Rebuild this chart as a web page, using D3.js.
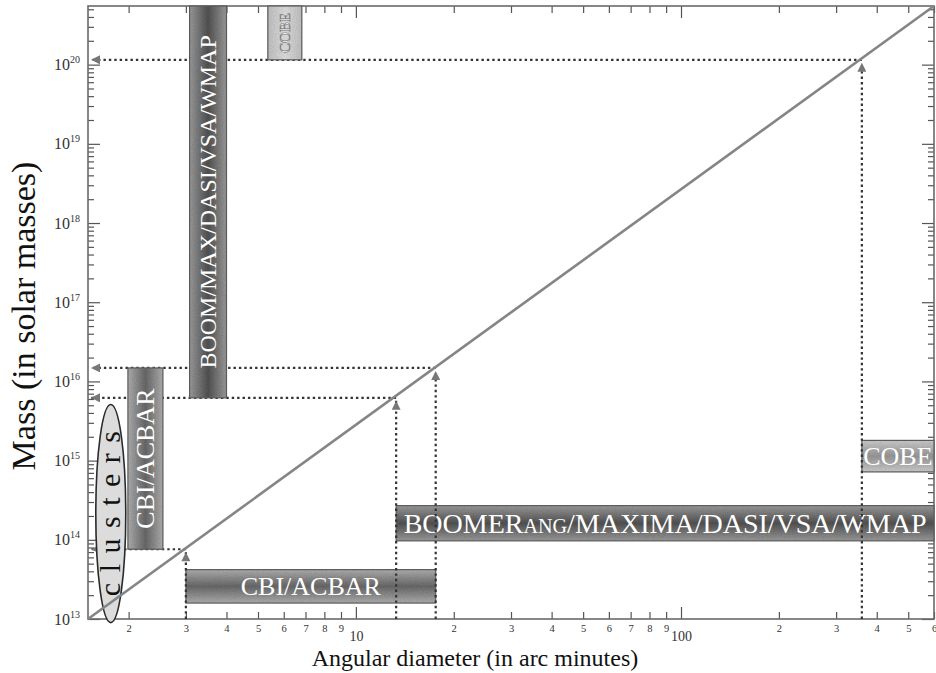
<!DOCTYPE html>
<html>
<head>
<meta charset="utf-8">
<script src="https://cdn.jsdelivr.net/npm/d3@7"></script>
<style>
  body { margin: 0; background: #fff; }
  svg { display: block; }
  text { font-family: "Liberation Serif", "Times New Roman", Tinos, "DejaVu Serif", "Noto Serif", serif; }
</style>
</head>
<body>
<svg id="chart" width="936" height="673"></svg>
<script>
// ---------------- DATA ----------------
const xDomain = [1.5, 600];          // angular diameter (arc minutes)
const yDomain = [1e13, 5.5e20];      // mass (solar masses)

// M ∝ θ^3 relation (end points)
const relationTheta = [1.5, 600];
const relationMass  = [1e13, 5.5e20];

// Dotted guide points on the relation
const guideTheta = [3.0, 13.3, 17.6, 360];
const guideMass  = [7.6e13, 6.2e15, 1.48e16, 1.15e20];

// Experiment bands
const instruments = ["BOOM/MAX/DASI/VSA/WMAP", "COBE", "CBI/ACBAR", "CBI/ACBAR",
                     "BOOMERANG/MAXIMA/DASI/VSA/WMAP", "COBE"];
const thetaMin = [3.08, 5.36, 1.99, 3.0, 13.3, 360];
const thetaMax = [4.0, 6.82, 2.55, 17.6, 600, 600];
const massMin  = [6.2e15, 1.15e20, 7.6e13, 1.59e13, 9.7e13, 7.2e14];
const massMax  = [5.5e20, 5.5e20, 1.48e16, 4.2e13, 2.7e14, 1.8e15];

// Clusters region
const clusterLabel = "clusters";
const clusterTheta = [1.585, 1.96];
const clusterMass  = [9.0e12, 5.1e15];

// Tick labels
const yTickExponents = [13, 14, 15, 16, 17, 18, 19, 20];
const xMajorTicks = [10, 100];
const xMinorDigits = [2, 3, 4, 5, 6, 7, 8, 9];

const xTitle = "Angular diameter (in arc minutes)";
const yTitle = "Mass (in solar masses)";

// ---------------- STYLE ----------------
const serif = "Liberation Serif, Times New Roman, Tinos, DejaVu Serif, Noto Serif, serif";
const barVertical = [true, true, true, false, false, false];
const barTone     = ["dark", "pale", "mid", "mid", "dark", "light"];
const barFont     = [24, 15, 26, 26, 28, 26];
const tones = {
  dark:  ["#a0a0a0", "#555555", "#a0a0a0"],
  mid:   ["#b4b4b4", "#6c6c6c", "#b4b4b4"],
  light: ["#d2d2d2", "#9c9c9c", "#d2d2d2"],
  pale:  ["#c6c6c6", "#e4e4e4", "#c6c6c6"]
};

// ---------------- SETUP ----------------
const svg = d3.select("#chart");
const PL = 88, PR = 934, PT = 6, PB = 619;
const x = d3.scaleLog().domain(xDomain).range([PL, PR]);
const y = d3.scaleLog().domain(yDomain).range([PB, PT]);

const defs = svg.append("defs");
Object.entries(tones).forEach(([name, stops]) => {
  ["v", "h"].forEach(o => {
    const g = defs.append("linearGradient").attr("id", `g-${name}-${o}`)
      .attr("x1", 0).attr("y1", 0)
      .attr("x2", o === "v" ? 1 : 0).attr("y2", o === "v" ? 0 : 1);
    stops.forEach((c, i) => g.append("stop").attr("offset", i / (stops.length - 1)).attr("stop-color", c));
  });
});
// noise texture
const flt = defs.append("filter").attr("id", "grain").attr("x", 0).attr("y", 0).attr("width", 1).attr("height", 1);
flt.append("feTurbulence").attr("type", "fractalNoise").attr("baseFrequency", 0.9).attr("numOctaves", 2).attr("seed", 3).attr("result", "noise");
flt.append("feColorMatrix").attr("in", "noise").attr("type", "matrix")
  .attr("values", "0 0 0 0 0  0 0 0 0 0  0 0 0 0 0  0 0 0 0.3 0").attr("result", "dark");
flt.append("feComposite").attr("in", "dark").attr("in2", "SourceGraphic").attr("operator", "in").attr("result", "dn");
const mrg = flt.append("feMerge");
mrg.append("feMergeNode").attr("in", "SourceGraphic");
mrg.append("feMergeNode").attr("in", "dn");

defs.append("marker").attr("id", "arrow")
  .attr("viewBox", "0 0 10 10").attr("refX", 10).attr("refY", 5)
  .attr("markerWidth", 12).attr("markerHeight", 9)
  .attr("markerUnits", "userSpaceOnUse").attr("orient", "auto")
  .append("path").attr("d", "M0,0L10,5L0,10Z").attr("fill", "#777");

// ---------------- AXES ----------------
const minorX = [];
[1, 10, 100].forEach(p => xMinorDigits.forEach(d => { const v = d * p; if (v >= xDomain[0] && v <= xDomain[1]) minorX.push(v); }));
const minorY = [];
yTickExponents.concat([12]).forEach(e => [2,3,4,5,6,7,8,9].forEach(k => { const v = k * Math.pow(10, e); if (v >= yDomain[0] && v <= yDomain[1]) minorY.push(v); }));
const majorY = yTickExponents.map(e => Math.pow(10, e));

function styleAxis(g) {
  g.select(".domain").remove();
  g.attr("font-family", null);
  g.selectAll(".tick line").attr("stroke", "#555").attr("stroke-width", 1.2);
  g.selectAll(".tick text").attr("fill", "#333").style("font-family", serif);
}

svg.append("g").attr("transform", `translate(0,${PB})`)
  .call(d3.axisBottom(x).tickValues(minorX).tickSize(-7).tickPadding(6)
    .tickFormat(v => String(Math.round(v / Math.pow(10, Math.floor(Math.log10(v) + 1e-9))))))
  .call(styleAxis).call(g => g.selectAll(".tick text").attr("font-size", 10.5));
svg.append("g").attr("transform", `translate(0,${PB})`)
  .call(d3.axisBottom(x).tickValues(xMajorTicks).tickSize(-12).tickPadding(12).tickFormat(d3.format("d")))
  .call(styleAxis).call(g => g.selectAll(".tick text").attr("font-size", 14));
svg.append("g").attr("transform", `translate(0,${PT})`)
  .call(d3.axisTop(x).tickValues(minorX).tickSize(-7).tickFormat(""))
  .call(styleAxis);
svg.append("g").attr("transform", `translate(0,${PT})`)
  .call(d3.axisTop(x).tickValues(xMajorTicks).tickSize(-12).tickFormat(""))
  .call(styleAxis);

svg.append("g").attr("transform", `translate(${PL},0)`)
  .call(d3.axisLeft(y).tickValues(minorY).tickSize(-6).tickFormat(""))
  .call(styleAxis);
svg.append("g").attr("transform", `translate(${PL},0)`)
  .call(d3.axisLeft(y).tickValues(majorY).tickSize(-12).tickPadding(8).tickFormat(""))
  .call(styleAxis)
  .call(g => g.selectAll(".tick text").each(function(v) {
    const t = d3.select(this).attr("font-size", 16).attr("dy", "0.32em");
    t.text("10");
    t.append("tspan").attr("font-size", 10).attr("dy", -7).text(Math.round(Math.log10(v)));
  }));
svg.append("g").attr("transform", `translate(${PR},0)`)
  .call(d3.axisRight(y).tickValues(minorY).tickSize(-6).tickFormat(""))
  .call(styleAxis);
svg.append("g").attr("transform", `translate(${PR},0)`)
  .call(d3.axisRight(y).tickValues(majorY).tickSize(-12).tickFormat(""))
  .call(styleAxis);

// frame
svg.append("rect").attr("x", PL).attr("y", PT).attr("width", PR - PL).attr("height", PB - PT)
  .attr("fill", "none").attr("stroke", "#6a6a6a").attr("stroke-width", 1.6);

// ---------------- GUIDES (horizontal) ----------------
const dotStyle = s => s.attr("stroke", "#333").attr("stroke-width", 2.2).attr("stroke-dasharray", "2.4,3").attr("fill", "none");
guideTheta.forEach((t, i) => {
  svg.append("line")
    .attr("x1", x(t)).attr("y1", y(guideMass[i]))
    .attr("x2", x(xDomain[0]) + 3).attr("y2", y(guideMass[i]))
    .call(dotStyle).attr("marker-end", "url(#arrow)");
});

// ---------------- BANDS ----------------
instruments.forEach((name, i) => {
  const x0 = x(thetaMin[i]), x1 = x(thetaMax[i]);
  const y0 = y(massMax[i]), y1 = y(massMin[i]);
  const v = barVertical[i];
  svg.append("rect").attr("x", x0).attr("y", y0).attr("width", x1 - x0).attr("height", y1 - y0)
    .attr("fill", `url(#g-${barTone[i]}-${v ? "v" : "h"})`)
    .attr("filter", "url(#grain)");
  svg.append("rect").attr("x", x0).attr("y", y0).attr("width", x1 - x0).attr("height", y1 - y0)
    .attr("fill", "none").attr("stroke", "#5a5a5a").attr("stroke-width", 1.2);
  const cx = (x0 + x1) / 2, cy = (y0 + y1) / 2, fs = barFont[i];
  const txt = svg.append("text")
    .style("font-family", serif).attr("font-size", fs).attr("fill", "#fff")
    .attr("text-anchor", "middle");
  if (v) txt.attr("transform", `translate(${cx + 0.34 * fs},${cy}) rotate(-90)`);
  else txt.attr("x", cx).attr("y", cy + 0.34 * fs);
  if (name.startsWith("BOOMERANG")) {
    txt.append("tspan").text("BOOMER");
    txt.append("tspan").attr("font-size", fs * 0.72).text("ANG");
    txt.append("tspan").text(name.slice(9));
  } else {
    txt.text(name);
  }
  if (barTone[i] === "pale") txt.attr("fill", "#f6f6f6").attr("stroke", "#777").attr("stroke-width", 0.6);
});

// ---------------- CLUSTERS ----------------
{
  const ex0 = x(clusterTheta[0]), ex1 = x(clusterTheta[1]);
  const ey0 = y(clusterMass[1]), ey1 = y(clusterMass[0]);
  const cx = (ex0 + ex1) / 2, cy = (ey0 + ey1) / 2;
  svg.append("ellipse").attr("cx", cx).attr("cy", cy).attr("rx", (ex1 - ex0) / 2).attr("ry", (ey1 - ey0) / 2)
    .attr("fill", "#dcdcdc").attr("stroke", "#2a2a2a").attr("stroke-width", 1.6);
  const fs = 30, ls = 10.5;
  svg.append("text").style("font-family", serif).attr("font-size", fs).attr("fill", "#111")
    .attr("letter-spacing", ls).attr("text-anchor", "middle")
    .attr("transform", `translate(${cx + 0.3 * fs},${cy}) rotate(-90)`)
    .attr("dx", ls / 2)
    .text(clusterLabel);
}

// ---------------- RELATION LINE ----------------
svg.append("path")
  .datum(relationTheta.map((t, i) => [t, relationMass[i]]))
  .attr("d", d3.line().x(d => x(d[0])).y(d => y(d[1])))
  .attr("stroke", "#858585").attr("stroke-width", 2.6).attr("fill", "none");

// ---------------- GUIDES (vertical) ----------------
guideTheta.forEach((t, i) => {
  svg.append("line")
    .attr("x1", x(t)).attr("y1", y(yDomain[0]))
    .attr("x2", x(t)).attr("y2", y(guideMass[i]) + 3)
    .call(dotStyle).attr("marker-end", "url(#arrow)");
});

// ---------------- TITLES ----------------
svg.append("text").attr("x", 475).attr("y", 666).attr("text-anchor", "middle")
  .style("font-family", serif).attr("font-size", 24).attr("fill", "#111").text(xTitle);
svg.append("text").attr("transform", "translate(35,316) rotate(-90)").attr("text-anchor", "middle")
  .style("font-family", serif).attr("font-size", 34).attr("fill", "#111").text(yTitle);
</script>
</body>
</html>
